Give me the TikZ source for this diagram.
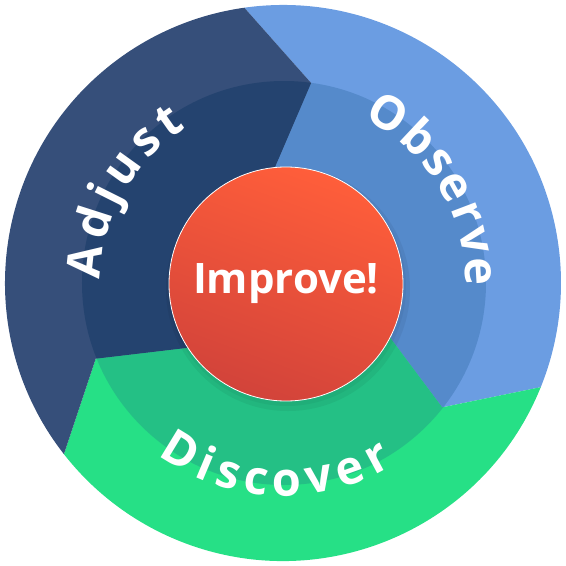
\documentclass[tikz,border=0pt]{standalone}
\usepackage{fontspec}
\newfontfamily\labelfont{Open Sans}
\usetikzlibrary{decorations.text}

\definecolor{obsout}{HTML}{6B9DE2}
\definecolor{obsin}{HTML}{558ACB}
\definecolor{adjout}{HTML}{364F7A}
\definecolor{adjin}{HTML}{24436F}
\definecolor{disout}{HTML}{26E086}
\definecolor{disin}{HTML}{24C085}
\definecolor{imptop}{HTML}{FF5E3A}
\definecolor{impbot}{HTML}{D2433A}

% the three sectors, filled with one colour each
\newcommand\drawsectors[3]{%
  \fill[#1] (0,0) -- (ao-in) -- (ao-mid) -- (ao-out)
    arc[start angle=98, end angle=-22, radius=278] -- (od-mid) -- (od-in) -- cycle;
  \fill[#2] (0,0) -- (od-in) -- (od-mid) -- (od-out)
    arc[start angle=-22, end angle=-142, radius=278] -- (da-mid) -- (da-in) -- cycle;
  \fill[#3] (0,0) -- (da-in) -- (da-mid) -- (da-out)
    arc[start angle=218, end angle=98, radius=278] -- (ao-mid) -- (ao-in) -- cycle;
}

\begin{document}
\begin{tikzpicture}[x=1pt, y=1pt,
  ringtext/.style={decorate, decoration={text along path, text align={fit to path},
    text color=white, text={|\fontsize{47}{47}\labelfont\bfseries|#1}}}]
\useasboundingbox (-283,-283) rectangle (283,283);
% boundary corners
\coordinate (ao-out) at (98:278);
\coordinate (ao-mid) at (82:202);
\coordinate (ao-in)  at (94:116);
\coordinate (od-out) at (-22:278);
\coordinate (od-mid) at (-38:202);
\coordinate (od-in)  at (-26:116);
\coordinate (da-out) at (218:278);
\coordinate (da-mid) at (202:202);
\coordinate (da-in)  at (214:116);
\drawsectors{obsout}{disout}{adjout}
\begin{scope}
  \clip (1,0) circle (202);
  \drawsectors{obsin}{disin}{adjin}
\end{scope}
% ring labels
\path[ringtext=Observe]  (64:183) arc[start angle=64, end angle=-1, radius=183];
\path[ringtext=Adjust]   (179:183) arc[start angle=179, end angle=122, radius=183];
\path[ringtext=Discover] (234:213) arc[start angle=234, end angle=301, radius=213];
% shadow and centre
\fill[black, opacity=0.05] (5,-6) circle (122);
\fill[black, opacity=0.04] (4,-4) circle (119);
\node[circle, draw=white, line width=0.8pt, minimum size=234pt, inner sep=0pt,
  top color=imptop, bottom color=impbot, shading angle=-20,
  text=white, font=\fontsize{42}{42}\labelfont\bfseries] (improve) at (3,-1) {Improve!};
\end{tikzpicture}
\end{document}
